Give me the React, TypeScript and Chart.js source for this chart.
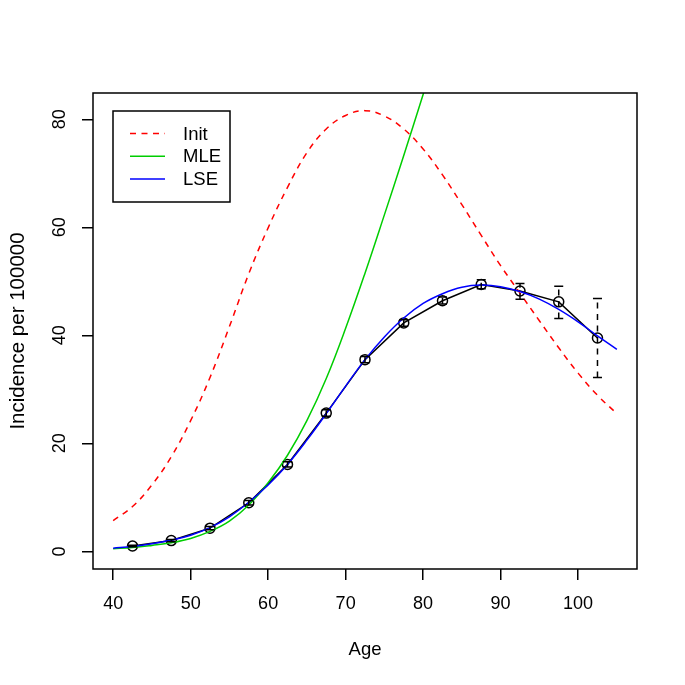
import React, { useEffect, useRef } from "react";
import { Chart, registerables } from "chart.js";
Chart.register(...registerables);

// ---- data ----
const obsAge = [42.5, 47.5, 52.5, 57.5, 62.5, 67.5, 72.5, 77.5, 82.5, 87.5, 92.5, 97.5, 102.5];
const obsRate = [1.0, 2.0, 4.3, 9.0, 16.1, 25.6, 35.5, 42.3, 46.4, 49.4, 48.2, 46.2, 39.5];
const errLow = [0.85, 1.8, 4.0, 8.6, 15.6, 25.0, 34.9, 41.7, 45.8, 48.6, 46.7, 43.1, 32.2];
const errHigh = [1.15, 2.2, 4.6, 9.4, 16.6, 26.2, 36.1, 42.9, 47.1, 50.3, 49.6, 49.1, 46.8];

const curveAge = [40, 42.5, 45, 47.5, 50, 52.5, 55, 57.5, 60, 62.5, 65, 67.5, 70, 72.5, 75, 77.5, 80, 82.5, 85, 87.5, 90, 92.5, 95, 97.5, 100, 102.5, 105];
const initCurve = [5.7, 8.3, 12.3, 17.5, 24.2, 32.2, 41.6, 51.4, 59.9, 67.4, 73.8, 78.2, 80.7, 81.6, 80.6, 78.2, 74.5, 69.7, 64.2, 58.5, 52.9, 47.8, 42.7, 37.7, 33.0, 28.9, 25.5];
const mleCurve = [0.5, 0.7, 1.1, 1.6, 2.4, 3.7, 5.6, 8.6, 12.7, 17.8, 24.2, 32.0, 41.3, 51.5, 62.3, 73.3, 84.6, 96.0];
const lseCurve = [0.6, 0.9, 1.4, 2.1, 3.0, 4.4, 6.4, 9.1, 12.3, 16.1, 20.6, 25.5, 30.6, 35.5, 39.7, 43.2, 45.9, 47.7, 48.9, 49.3, 49.0, 48.1, 46.7, 44.8, 42.5, 39.9, 37.4];

const xTicks = [40, 50, 60, 70, 80, 90, 100];
const yTicks = [0, 20, 40, 60, 80];
const legendLabels = ["Init", "MLE", "LSE"];

const FONT = "'Liberation Sans', Arial, Helvetica, sans-serif";
const FS = 18;

const toXY = (xs: number[], ys: number[]) => ys.map((y, i) => ({ x: xs[i], y }));

const errorBars = {
  id: "errorBars",
  afterDatasetsDraw(chart: any) {
    const { ctx, scales } = chart;
    const xs = scales.x, ys = scales.y;
    ctx.save();
    ctx.strokeStyle = "#000";
    ctx.lineWidth = 1.5;
    obsAge.forEach((a, i) => {
      const px = xs.getPixelForValue(a);
      const pl = ys.getPixelForValue(errLow[i]);
      const ph = ys.getPixelForValue(errHigh[i]);
      ctx.setLineDash([6, 5.5]);
      ctx.beginPath();
      ctx.moveTo(px, pl);
      ctx.lineTo(px, ph);
      ctx.stroke();
      ctx.setLineDash([]);
      ctx.beginPath();
      ctx.moveTo(px - 4.5, pl);
      ctx.lineTo(px + 4.5, pl);
      ctx.moveTo(px - 4.5, ph);
      ctx.lineTo(px + 4.5, ph);
      ctx.stroke();
    });
    ctx.restore();
  },
};

const frameAndLegend = {
  id: "frameAndLegend",
  afterDraw(chart: any) {
    const { ctx, chartArea } = chart;
    ctx.save();
    ctx.strokeStyle = "#000";
    ctx.lineWidth = 1.5;
    ctx.strokeRect(chartArea.left, chartArea.top, chartArea.right - chartArea.left, chartArea.bottom - chartArea.top);
    const x0 = chartArea.left + 20;
    const y0 = chartArea.top + 18;
    ctx.strokeRect(x0, y0, 117, 91);
    legendLabels.forEach((lab, i) => {
      const ds = chart.data.datasets.find((d: any) => d.label === lab);
      const cy = y0 + 22.5 + i * 22.8;
      ctx.beginPath();
      ctx.setLineDash(ds.borderDash || []);
      ctx.strokeStyle = ds.borderColor;
      ctx.lineWidth = 1.5;
      ctx.moveTo(x0 + 17, cy);
      ctx.lineTo(x0 + 52, cy);
      ctx.stroke();
      ctx.setLineDash([]);
      ctx.fillStyle = "#000";
      ctx.font = `18.5px ${FONT}`;
      ctx.textBaseline = "middle";
      ctx.textAlign = "left";
      ctx.fillText(lab, x0 + 70, cy + 1);
    });
    ctx.restore();
  },
};

export default function App() {
  const ref = useRef<HTMLCanvasElement>(null);
  useEffect(() => {
    Chart.defaults.font.family = FONT;
    Chart.defaults.font.size = FS;
    Chart.defaults.color = "#000";
    const chart = new Chart(ref.current as HTMLCanvasElement, {
      type: "line",
      data: {
        datasets: [
          {
            label: "Observed",
            data: toXY(obsAge, obsRate),
            borderColor: "#000",
            borderWidth: 1.5,
            pointRadius: 5,
            pointBorderWidth: 1.5,
            pointBorderColor: "#000",
            pointBackgroundColor: "rgba(0,0,0,0)",
            tension: 0,
            order: 4,
          },
          {
            label: "Init",
            data: toXY(curveAge, initCurve),
            borderColor: "#FF0000",
            borderDash: [6, 5.5],
            borderWidth: 1.5,
            pointRadius: 0,
            tension: 0.4,
            order: 3,
          },
          {
            label: "MLE",
            data: toXY(curveAge, mleCurve),
            borderColor: "#00CD00",
            borderWidth: 1.5,
            pointRadius: 0,
            tension: 0.4,
            order: 2,
          },
          {
            label: "LSE",
            data: toXY(curveAge, lseCurve),
            borderColor: "#0000FF",
            borderWidth: 1.5,
            pointRadius: 0,
            tension: 0.4,
            order: 1,
          },
        ],
      },
      options: {
        responsive: false,
        animation: false,
        events: [],
        layout: { padding: { left: 0, right: 48, top: 93, bottom: 0 } },
        plugins: { legend: { display: false }, tooltip: { enabled: false } },
        scales: {
          x: {
            type: "linear",
            min: 37.4,
            max: 107.6,
            afterBuildTicks: (s: any) => {
              s.ticks = xTicks.map((v) => ({ value: v }));
            },
            afterFit: (s: any) => {
              s.height = 116;
            },
            grid: { display: true, drawOnChartArea: false, drawTicks: true, tickLength: 11, color: "#000", lineWidth: 1.5 },
            border: { display: false },
            ticks: { autoSkip: false, maxRotation: 0, minRotation: 0, padding: 13, color: "#000", font: { size: FS } },
            title: { display: true, text: "Age", color: "#000", font: { size: 18.5 }, padding: { top: 0, bottom: 24 } },
          },
          y: {
            type: "linear",
            min: -3.264,
            max: 84.864,
            afterBuildTicks: (s: any) => {
              s.ticks = yTicks.map((v) => ({ value: v }));
            },
            afterFit: (s: any) => {
              s.width = 93;
            },
            grid: { display: true, drawOnChartArea: false, drawTicks: true, tickLength: 11, color: "#000", lineWidth: 1.5 },
            border: { display: false },
            ticks: { autoSkip: false, minRotation: 90, maxRotation: 90, crossAlign: "center", padding: 12, color: "#000", font: { size: FS } },
            title: { display: true, text: "Incidence per 100000", color: "#000", font: { size: 20.5 }, padding: { top: 6, bottom: 0 } },
          },
        },
      },
      plugins: [errorBars, frameAndLegend],
    } as any);
    return () => chart.destroy();
  }, []);
  return (
    <div style={{ position: "absolute", left: 0, top: 0, width: 685, height: 685, background: "#fff" }}>
      <canvas ref={ref} width={685} height={685} style={{ display: "block", width: 685, height: 685 }} />
    </div>
  );
}
